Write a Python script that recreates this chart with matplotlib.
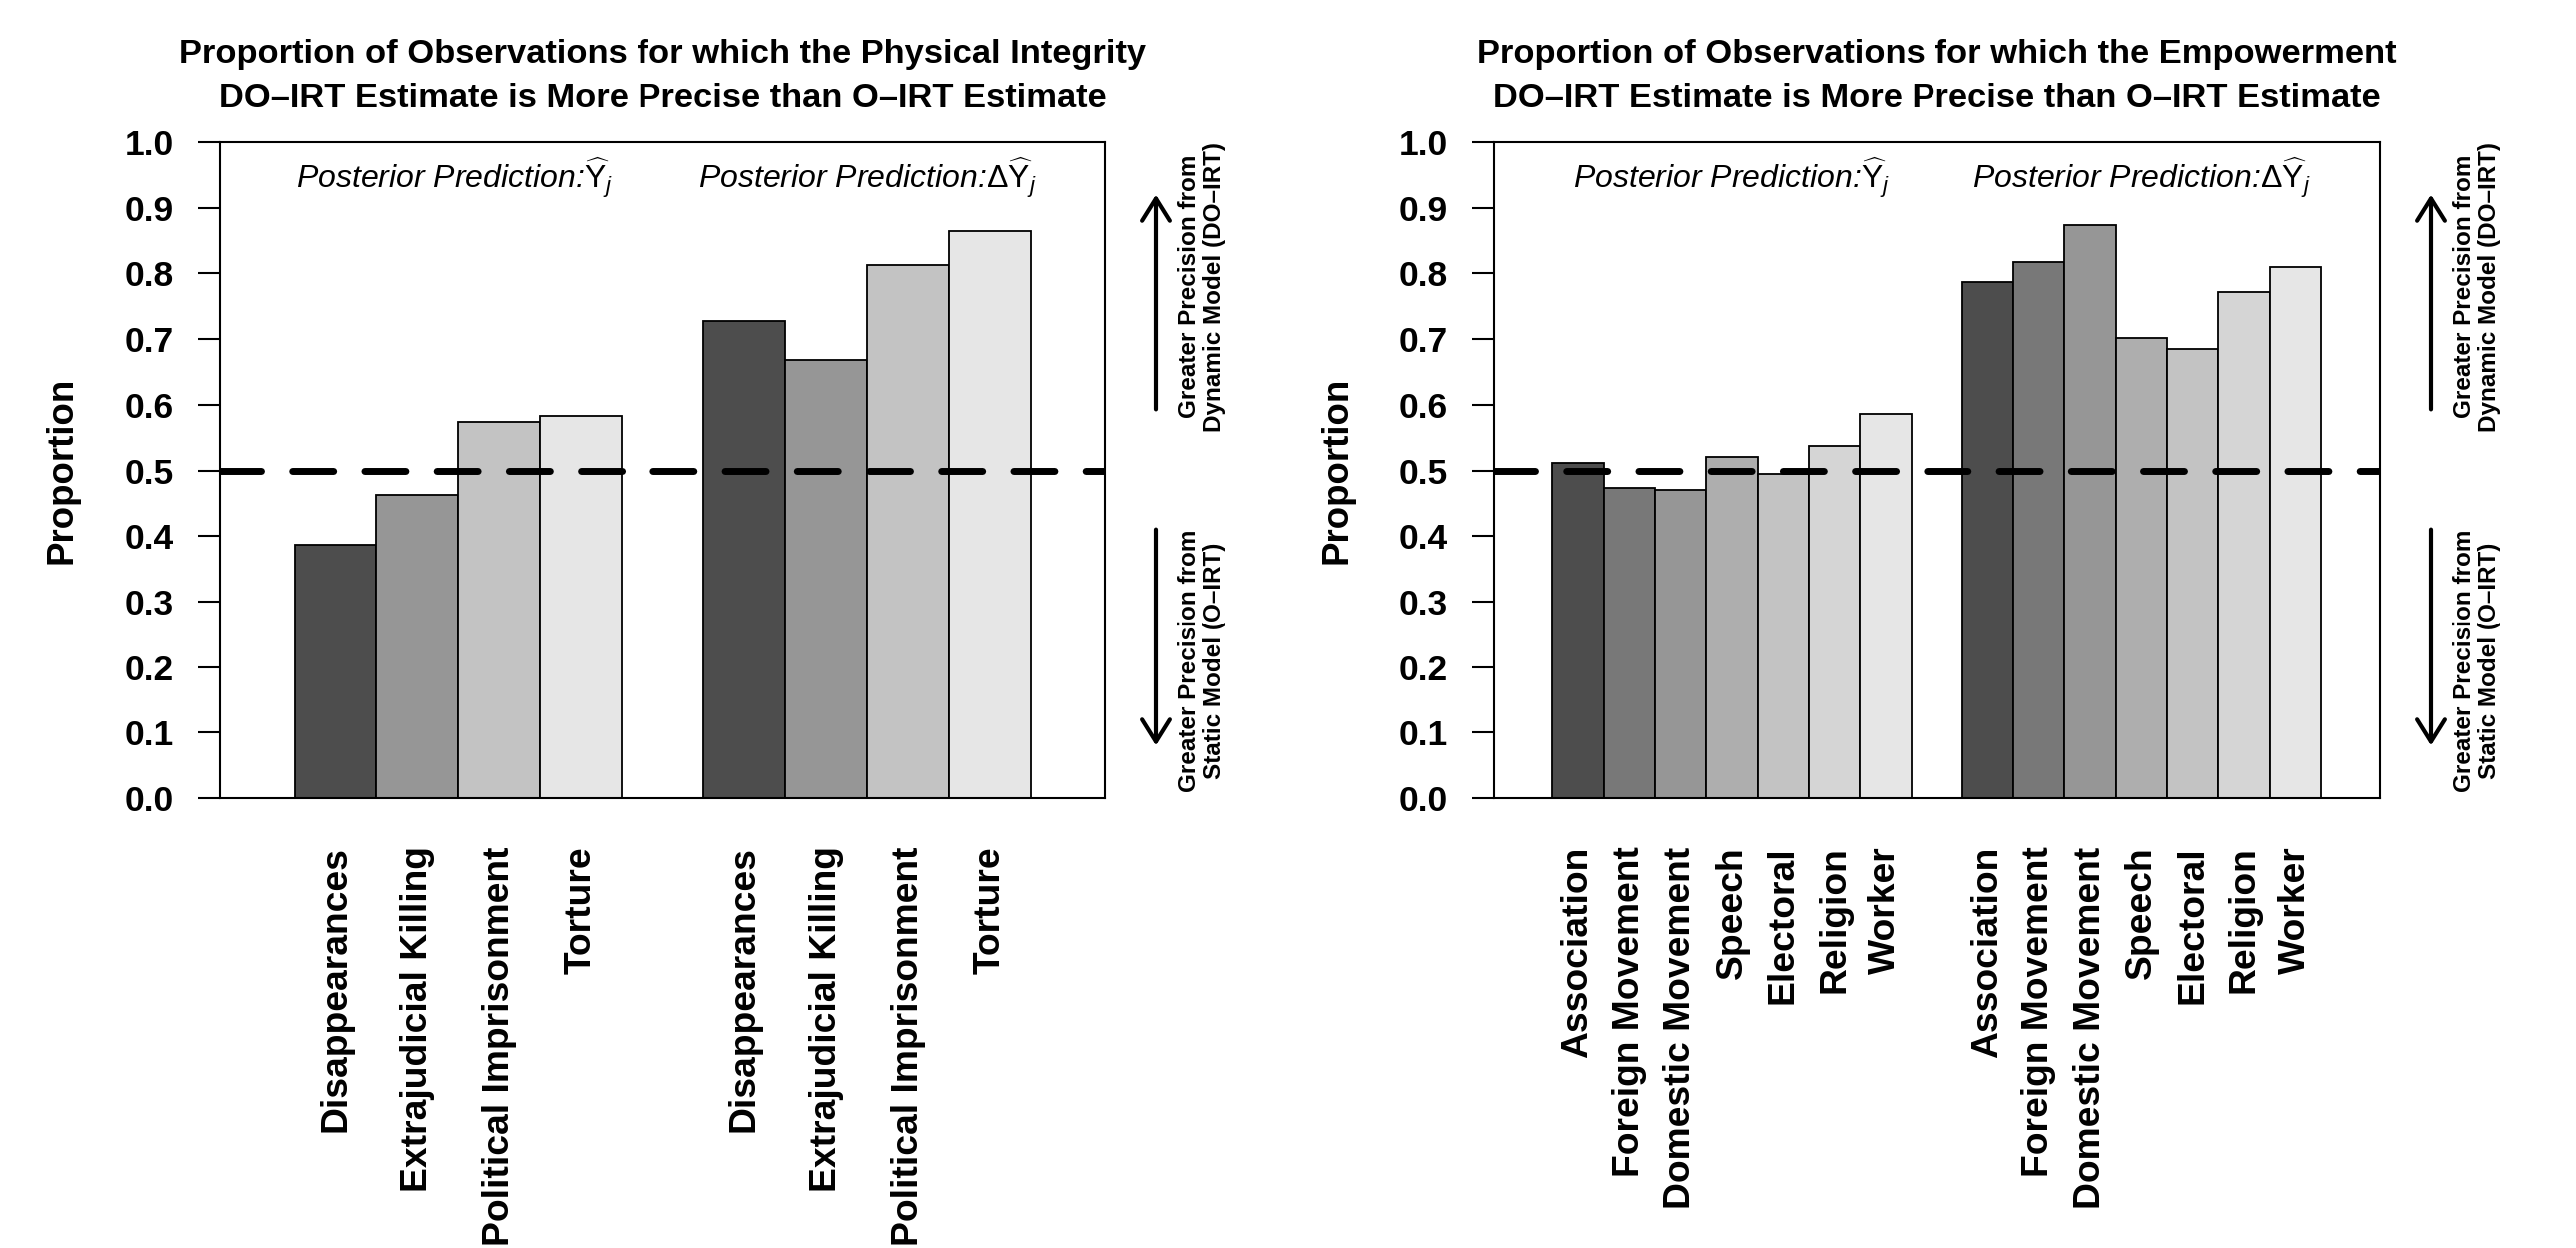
import matplotlib
matplotlib.use("Agg")
import matplotlib.pyplot as plt

# ---------------- data ----------------
phys_categories = ["Disappearances", "Extrajudicial Killing",
                   "Political Imprisonment", "Torture"]
phys_yhat = [0.386, 0.462, 0.574, 0.583]
phys_dyhat = [0.728, 0.668, 0.813, 0.865]

emp_categories = ["Association", "Foreign Movement", "Domestic Movement",
                  "Speech", "Electoral", "Religion", "Worker"]
emp_yhat = [0.511, 0.474, 0.471, 0.520, 0.494, 0.538, 0.586]
emp_dyhat = [0.787, 0.818, 0.874, 0.702, 0.685, 0.772, 0.810]

ytick_values = [0.0, 0.1, 0.2, 0.3, 0.4, 0.5, 0.6, 0.7, 0.8, 0.9, 1.0]
ytick_labels = ["0.0", "0.1", "0.2", "0.3", "0.4", "0.5",
                "0.6", "0.7", "0.8", "0.9", "1.0"]

phys_title = ["Proportion of Observations for which the Physical Integrity",
              "DO\u2013IRT Estimate is More Precise than O\u2013IRT Estimate"]
emp_title = ["Proportion of Observations for which the Empowerment",
             "DO\u2013IRT Estimate is More Precise than O\u2013IRT Estimate"]
label_yhat = r"Posterior Prediction:$\widehat{\mathrm{Y}}_j$"
label_dyhat = r"Posterior Prediction:$\Delta\widehat{\mathrm{Y}}_j$"
up_text = "Greater Precision from\nDynamic Model (DO\u2013IRT)"
down_text = "Greater Precision from\nStatic Model (O\u2013IRT)"
reference_level = 0.5

grays4 = ["#4D4D4D", "#969696", "#C3C3C3", "#E6E6E6"]
grays7 = ["#4D4D4D", "#787878", "#969696", "#AEAEAE", "#C3C3C3", "#D5D5D5", "#E6E6E6"]

# ---------------- style ----------------
plt.rcParams["font.family"] = ["Liberation Sans", "DejaVu Sans"]
plt.rcParams["mathtext.fontset"] = "custom"
plt.rcParams["mathtext.rm"] = "Liberation Sans"
plt.rcParams["mathtext.it"] = "Liberation Sans:italic"
plt.rcParams["mathtext.bf"] = "Liberation Sans:bold"

W, H = 2578, 1249
fig = plt.figure(figsize=(W / 100, H / 100), dpi=100, facecolor="white")


def fx(px):
    return px / W


def fy(py):
    return 1 - py / H


def panel(ax_px, cats, yhat, dyhat, colors, xmarg, title, text_x, ylab_x):
    x0, x1 = ax_px
    ax = fig.add_axes([fx(x0), fy(799), (x1 - x0) / W, 657 / H])
    n = len(cats)
    lefts = list(range(n)) + list(range(n + 1, 2 * n + 1))
    heights = list(yhat) + list(dyhat)
    cols = list(colors) + list(colors)
    ax.bar(lefts, heights, width=1.0, align="edge", color=cols,
           edgecolor="black", linewidth=1.3, zorder=2)
    ax.set_xlim(-xmarg[0], 2 * n + 1 + xmarg[1])
    ax.set_ylim(0, 1)
    ax.axhline(reference_level, color="black", lw=5,
               linestyle=(0, (5.9, 4.5)), dash_capstyle="round", zorder=3)
    for s in ax.spines.values():
        s.set_linewidth(1.5)
    ax.set_yticks(ytick_values)
    ax.set_yticklabels(ytick_labels, fontsize=25.5, fontweight="bold")
    ax.tick_params(axis="y", direction="out", length=16, width=1.5, pad=17)
    centers = [l + 0.5 for l in lefts]
    ax.set_xticks(centers)
    ax.set_xticklabels(cats + cats, rotation=90, fontsize=26.8, fontweight="bold")
    ax.tick_params(axis="x", length=0, pad=35)

    # group labels
    ax.text(text_x[0], 0.93, label_yhat, style="italic", fontsize=23,
            ha="center", va="baseline")
    ax.text(text_x[1], 0.93, label_dyhat, style="italic", fontsize=23,
            ha="center", va="baseline")

    # title
    cx = (x0 + x1) / 2
    fig.text(fx(cx), fy(63), title[0], fontsize=24.8, fontweight="bold",
             ha="center", va="baseline")
    fig.text(fx(cx), fy(107), title[1], fontsize=24.8, fontweight="bold",
             ha="center", va="baseline")

    # y label
    fig.text(fx(ylab_x), fy(470.5), "Proportion", rotation=90, fontsize=26.4,
             fontweight="bold", ha="center", va="center")

    # side arrows and text
    arx = (x1 + 51 - x0) / (x1 - x0)
    aprops = dict(arrowstyle="->,head_length=1.6,head_width=1.0", lw=3,
                  color="black", shrinkA=0, shrinkB=0, mutation_scale=10)
    ax.annotate("", xy=(arx, 0.92), xytext=(arx, 0.593),
                xycoords="axes fraction", textcoords="axes fraction",
                arrowprops=aprops, annotation_clip=False)
    ax.annotate("", xy=(arx, 0.08), xytext=(arx, 0.41),
                xycoords="axes fraction", textcoords="axes fraction",
                arrowprops=aprops, annotation_clip=False)
    tx = (x1 + 97 - x0) / (x1 - x0)
    ax.text(tx, 0.78, up_text, transform=ax.transAxes, rotation=90,
            ha="center", va="center", fontsize=17.5, fontweight="bold",
            multialignment="center", linespacing=1.15)
    ax.text(tx, 0.21, down_text, transform=ax.transAxes, rotation=90,
            ha="center", va="center", fontsize=17.5, fontweight="bold",
            multialignment="center", linespacing=1.15)
    return ax


panel((220, 1106), phys_categories, phys_yhat, phys_dyhat, grays4,
      (0.91, 0.904), phys_title, (1.95, 7.0), 62)
panel((1495, 2382), emp_categories, emp_yhat, emp_dyhat, grays7,
      (1.138, 1.15), emp_title, (3.5, 11.5), 1338)

fig.savefig("out.png", dpi=100, facecolor="white")
